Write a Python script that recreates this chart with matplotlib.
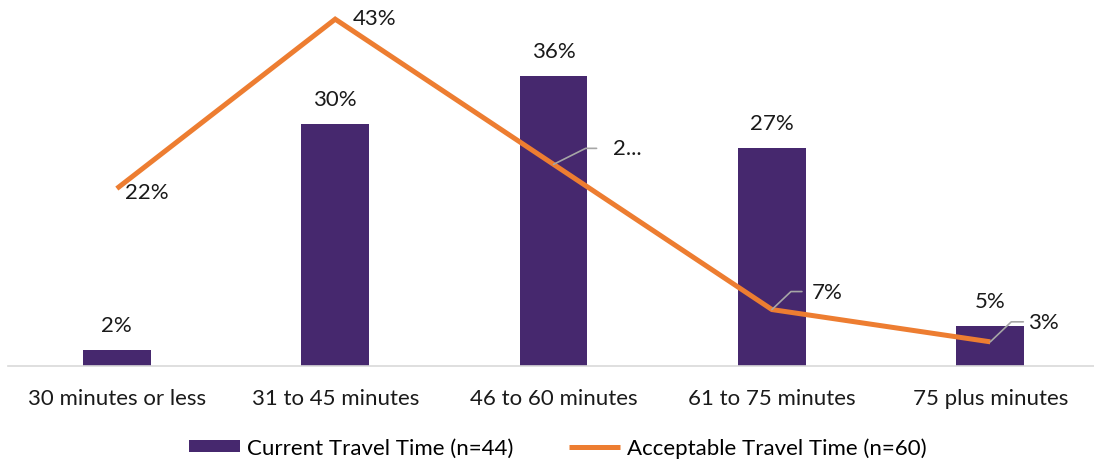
import matplotlib.pyplot as plt
import numpy as np

categories = ["30 minutes or less", "31 to 45 minutes", "46 to 60 minutes",
              "61 to 75 minutes", "75 plus minutes"]
current = [2, 30, 36, 27, 5]
acceptable = [22, 43, 25, 7, 3]
current_labels = ["2%", "30%", "36%", "27%", "5%"]
acceptable_labels = ["22%", "43%", "2...", "7%", "3%"]

purple = "#46286E"
orange = "#ED7D31"
txt = "#1a1a1a"
plt.rcParams['font.family'] = ['Lato', 'DejaVu Sans']

fig = plt.figure(figsize=(10.94, 4.64), dpi=100)
ax = fig.add_axes([0.007, 0.209, 0.998, 0.791])
x = np.arange(len(categories))

bars = ax.bar(x, current, width=0.31, color=purple, label="Current Travel Time (n=44)", zorder=2)
line, = ax.plot(x, acceptable, color=orange, lw=3.6, label="Acceptable Travel Time (n=60)",
                zorder=3, solid_capstyle="butt", solid_joinstyle="miter")

for xi, v, t in zip(x, current, current_labels):
    ax.annotate(t, (xi, v), xytext=(0, 25), textcoords="offset pixels",
                ha="center", va="center", fontsize=16, color=txt)

# line labels: first two plain, last three with leader lines (offsets in pixels)
ax.annotate(acceptable_labels[0], (x[0], acceptable[0]), xytext=(8, -3),
            textcoords="offset pixels", ha="left", va="center", fontsize=16, color=txt)
ax.annotate(acceptable_labels[1], (x[1], acceptable[1]), xytext=(18, 1),
            textcoords="offset pixels", ha="left", va="center", fontsize=16, color=txt)
leaders = {2: (32, 16, 43, 59), 3: (19, 18, 30, 40), 4: (21, 20, 33, 38)}
for i, (cx, cy, ex, tx) in leaders.items():
    ax.annotate(acceptable_labels[i], (x[i], acceptable[i]), xytext=(tx, cy),
                textcoords="offset pixels", ha="left", va="center", fontsize=16,
                color=txt, zorder=4)
    ang = np.degrees(np.arctan2(cy, cx))
    ax.annotate("", (x[i], acceptable[i]), xytext=(ex, cy), textcoords="offset pixels",
                arrowprops=dict(arrowstyle="-", color="#A6A6A6", lw=1.2, shrinkA=0, shrinkB=0,
                                connectionstyle=f"angle,angleA=0,angleB={ang},rad=0"),
                zorder=4)

ax.set_xlim(-0.5, len(categories) - 0.5)
ax.set_ylim(0, 45.5)
ax.set_yticks([])
ax.set_xticks(x)
ax.set_xticklabels(categories, fontsize=16, color=txt)
ax.tick_params(axis="x", length=0, pad=16)
for s in ["top", "right", "left"]:
    ax.spines[s].set_visible(False)
ax.spines["bottom"].set_color("#D9D9D9")
ax.spines["bottom"].set_linewidth(1.2)

fig.legend([bars, line], [bars.get_label(), line.get_label()],
           loc="lower center", bbox_to_anchor=(0.51, -0.032), ncol=2, frameon=False,
           fontsize=16, handlelength=2.3, handleheight=0.45, columnspacing=2.5,
           handletextpad=0.3)

fig.savefig("out.png", dpi=100)
